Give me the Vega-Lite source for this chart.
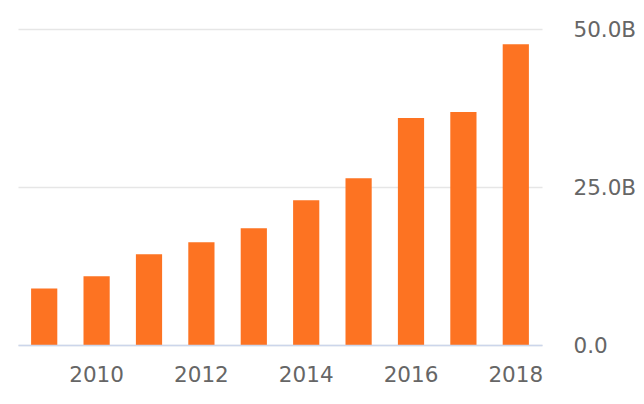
{
  "$schema": "https://vega.github.io/schema/vega-lite/v6.json",
  "autosize": "none",
  "width": 524,
  "height": 316,
  "padding": {"left": 18, "top": 29, "right": 102, "bottom": 59},
  "background": "white",
  "data": {
    "values": [
      {"year": "2009", "value": 8.95},
      {"year": "2010", "value": 10.86},
      {"year": "2011", "value": 14.34},
      {"year": "2012", "value": 16.24},
      {"year": "2013", "value": 18.46},
      {"year": "2014", "value": 22.9},
      {"year": "2015", "value": 26.39},
      {"year": "2016", "value": 35.9},
      {"year": "2017", "value": 36.85},
      {"year": "2018", "value": 47.6}
    ]
  },
  "config": {
    "view": {"stroke": null},
    "axis": {"labelFont": "DejaVu Sans", "labelFontSize": 21.5, "labelColor": "#666666"}
  },
  "mark": {"type": "bar", "color": "#fd7322"},
  "encoding": {
    "x": {
      "field": "year",
      "type": "ordinal",
      "scale": {"paddingInner": 0.5, "paddingOuter": 0.25},
      "axis": {
        "title": null,
        "values": ["2010", "2012", "2014", "2016", "2018"],
        "labelAngle": 0,
        "ticks": false,
        "labelPadding": 19,
        "domainColor": "#ccd6eb",
        "domainWidth": 1.5,
        "zindex": 1
      }
    },
    "y": {
      "field": "value",
      "type": "quantitative",
      "scale": {"domain": [0, 50]},
      "axis": {
        "title": null,
        "orient": "right",
        "values": [0, 25, 50],
        "domain": false,
        "ticks": false,
        "labelPadding": 31,
        "labelAlign": "left",
        "labelOffset": 1,
        "gridColor": "#e6e6e6",
        "gridWidth": 1.5,
        "labelExpr": "datum.value == 0 ? '0.0' : format(datum.value, '.1f') + 'B'"
      }
    }
  }
}
